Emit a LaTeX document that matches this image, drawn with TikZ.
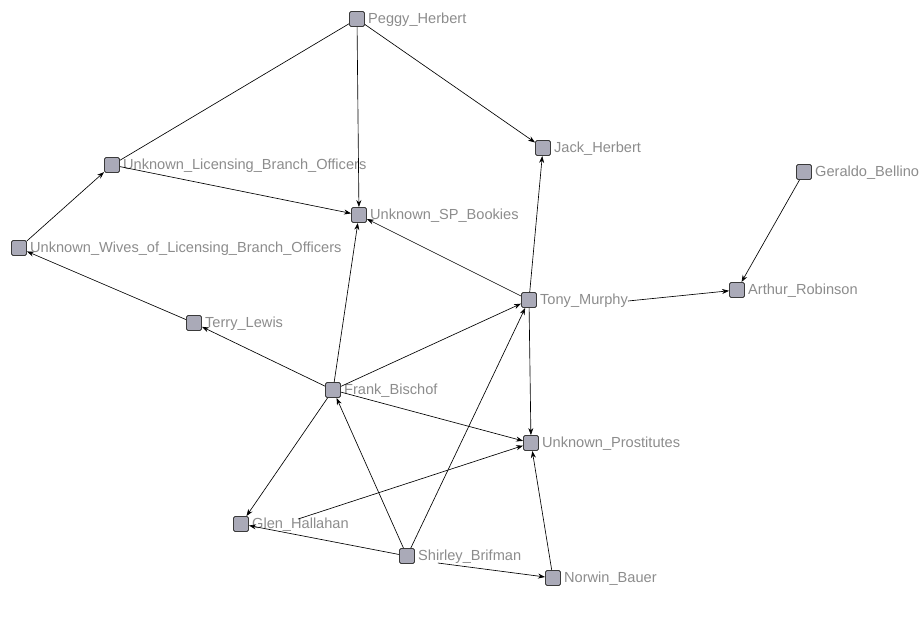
\documentclass[tikz,border=0pt]{standalone}
\usepackage{fontspec}
\setmainfont{Liberation Sans}
\usetikzlibrary{arrows.meta}
\definecolor{nodefill}{HTML}{AAAAB8}
\definecolor{nodeborder}{HTML}{3A3A3A}
\definecolor{labelgray}{HTML}{8C8C8C}
\tikzset{
  actor/.style={draw=nodeborder, fill=nodefill, line width=0.9pt, minimum size=15pt, inner sep=0pt, rounded corners=1.5pt},
  lbl/.style={anchor=west, inner sep=0pt, text=labelgray, font=\fontsize{14.6}{16}\selectfont},
  tie/.style={draw=black, line width=0.65pt, -{Stealth[length=7pt,width=5pt]}},
  undir/.style={draw=black, line width=0.65pt}
}
\begin{document}
\begin{tikzpicture}[x=1pt,y=-1pt]
\useasboundingbox (0,0) rectangle (920,618);
\node[actor] (peggy) at (357,19) {};
\node[actor] (ulbo) at (112,165) {};
\node[actor] (jack) at (543,148) {};
\node[actor] (geraldo) at (804,172) {};
\node[actor] (bookies) at (359,215) {};
\node[actor] (wives) at (19,248) {};
\node[actor] (tony) at (529,300) {};
\node[actor] (arthur) at (737,290) {};
\node[actor] (terry) at (194,323) {};
\node[actor] (frank) at (333,390) {};
\node[actor] (prost) at (531,443) {};
\node[actor] (glen) at (241,524) {};
\node[actor] (shirley) at (407,556) {};
\node[actor] (norwin) at (553,578) {};

\node[lbl] (peggyL) at ([xshift=3pt,yshift=-1pt]peggy.east) {Peggy\_Herbert};
\node[lbl] (ulboL) at ([xshift=3pt,yshift=-1pt]ulbo.east) {Unknown\_Licensing\_Branch\_Officers};
\node[lbl] (jackL) at ([xshift=3pt,yshift=-1pt]jack.east) {Jack\_Herbert};
\node[lbl] (geraldoL) at ([xshift=3pt,yshift=-1pt]geraldo.east) {Geraldo\_Bellino};
\node[lbl] (bookiesL) at ([xshift=3pt,yshift=-1pt]bookies.east) {Unknown\_SP\_Bookies};
\node[lbl] (wivesL) at ([xshift=3pt,yshift=-1pt]wives.east) {Unknown\_Wives\_of\_Licensing\_Branch\_Officers};
\node[lbl] (tonyL) at ([xshift=3pt,yshift=-1pt]tony.east) {Tony\_Murphy};
\node[lbl] (arthurL) at ([xshift=3pt,yshift=-1pt]arthur.east) {Arthur\_Robinson};
\node[lbl] (terryL) at ([xshift=3pt,yshift=-1pt]terry.east) {Terry\_Lewis};
\node[lbl] (frankL) at ([xshift=3pt,yshift=-1pt]frank.east) {Frank\_Bischof};
\node[lbl] (prostL) at ([xshift=3pt,yshift=-1pt]prost.east) {Unknown\_Prostitutes};
\node[lbl] (glenL) at ([xshift=3pt,yshift=-1pt]glen.east) {Glen\_Hallahan};
\node[lbl] (shirleyL) at ([xshift=3pt,yshift=-1pt]shirley.east) {Shirley\_Brifman};
\node[lbl] (norwinL) at ([xshift=3pt,yshift=-1pt]norwin.east) {Norwin\_Bauer};

\coordinate (glenOut) at ([xshift=46pt,yshift=-1pt]glenL.north west);
\coordinate (shirleyOut) at ([xshift=20pt,yshift=1pt]shirleyL.south west);

\draw[undir] (peggy) -- (ulbo);
\draw[tie] (peggy) -- (bookies);
\draw[tie] (peggy) -- (jack);
\draw[tie] (ulbo) -- (bookies);
\draw[tie] (wives) -- (ulbo);
\draw[tie] (terry) -- (wives);
\draw[tie] (frank) -- (terry);
\draw[tie] (frank) -- (bookies);
\draw[tie] (frank) -- (tony);
\draw[tie] (frank) -- (prost);
\draw[tie] (frank) -- (glen);
\draw[tie] (tony) -- (bookies);
\draw[tie] (tony) -- (jack);
\draw[tie] (tonyL.east) -- (arthur);
\draw[tie] (tony) -- (prost);
\draw[tie] (geraldo) -- (arthur);
\draw[tie] (glenOut) -- (prost);
\draw[tie] (shirley) -- (glen);
\draw[tie] (shirley) -- (frank);
\draw[tie] (shirley) -- (tony);
\draw[tie] (shirleyOut) -- (norwin);
\draw[tie] (norwin) -- (prost);
\end{tikzpicture}
\end{document}
